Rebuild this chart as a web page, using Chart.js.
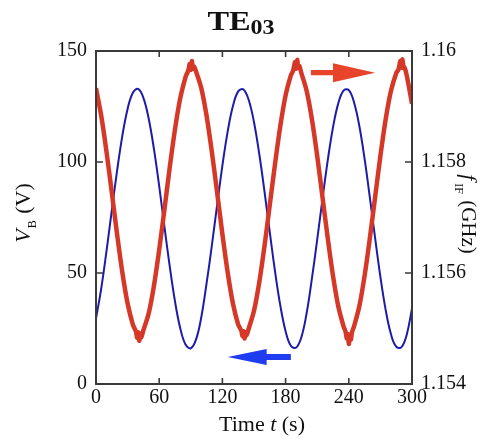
<!DOCTYPE html>
<html>
<head>
<meta charset="utf-8">
<script src="https://cdn.jsdelivr.net/npm/chart.js@4.4.1/dist/chart.umd.min.js"></script>
<style>
html,body{margin:0;padding:0;background:#fff;}
canvas{display:block;}
</style>
</head>
<body>
<canvas id="c" width="488" height="445"></canvas>
<script>
// ---- data ----
const timeTicks = [0, 60, 120, 180, 240, 300];
const vbTicks = [0, 50, 100, 150];
const fTicks = [1.154, 1.156, 1.158, 1.16];

const vbTimes = [0,5,10,15,20,25,30,35,40,45,50,55,60,65,70,75,80,85,90,95,
  100,105,110,115,120,125,130,135,140,145,150,155,160,165,170,175,180,185,190,195,
  200,205,210,215,220,225,230,235,240,245,250,255,260,265,270,275,280,285,290,295,300];
const vbValues = [29.5,43.1,60.0,78.2,96.0,111.8,123.9,131.2,132.9,128.9,119.6,105.9,89.1,70.8,53.0,37.2,25.1,17.8,16.1,20.1,
  30.2,45.4,62.4,80.7,98.4,113.7,125.2,131.8,132.7,127.9,117.9,103.6,86.6,68.3,50.6,35.3,23.8,17.2,16.4,21.1,
  32.0,47.6,65.0,83.3,100.7,115.6,126.4,132.2,132.4,126.8,116.2,101.4,84.0,65.7,48.3,33.4,22.5,16.8,16.6,22.2,34.0];

const fTimes = [0,5,10,15,20,25,30,35,38,39,40,41,42,43,45,50,55,60,65,70,75,80,85,87,88,89,90,91,92,93,95,
  100,105,110,115,120,125,130,135,138,139,140,141,142,143,145,150,155,160,165,170,175,180,185,187,188,189,190,191,192,193,195,
  200,205,210,215,220,225,230,235,237,238,239,240,241,242,243,245,250,255,260,265,270,275,280,285,287,288,289,290,291,292,293,295,300];
const fValues = [1.15933,1.15883,1.15818,1.15745,1.15670,1.15601,1.15545,1.15507,1.15494,1.15483,1.15493,1.15478,1.15491,1.15484,1.15497,
  1.15527,1.15577,1.15642,1.15715,1.15790,1.15859,1.15915,1.15953,1.15962,1.15968,1.15977,1.15966,1.15982,1.15968,1.15972,1.15963,
  1.15933,1.15883,1.15818,1.15745,1.15670,1.15601,1.15545,1.15507,1.15496,1.15486,1.15495,1.15482,1.15493,1.15488,1.15500,
  1.15532,1.15583,1.15649,1.15723,1.15797,1.15865,1.15920,1.15956,1.15964,1.15972,1.15980,1.15968,1.15984,1.15970,1.15973,1.15960,
  1.15928,1.15877,1.15811,1.15737,1.15663,1.15595,1.15540,1.15504,1.15494,1.15482,1.15490,1.15472,1.15488,1.15480,1.15493,1.15504,
  1.15540,1.15595,1.15663,1.15737,1.15811,1.15877,1.15928,1.15960,1.15966,1.15974,1.15982,1.15970,1.15985,1.15969,1.15970,1.15956,1.15905];

// arrow annotations in data units
const redArrow = {tail: 204, headBase: 225, tip: 265, level: 1.15961};
const blueArrow = {tail: 185, headBase: 162, tip: 125, level: 12.2};

const SERIF = "'Liberation Serif','DejaVu Serif',serif";

function toPts(xs, ys){ return xs.map((x,i)=>({x:x, y:ys[i]})); }

function drawArrow(ctx, xTail, xBase, xTip, y, shaftHalf, headHalf, color){
  ctx.save();
  ctx.fillStyle = color;
  ctx.beginPath();
  ctx.moveTo(xTail, y - shaftHalf);
  ctx.lineTo(xBase, y - shaftHalf);
  ctx.lineTo(xBase, y - headHalf);
  ctx.lineTo(xTip, y);
  ctx.lineTo(xBase, y + headHalf);
  ctx.lineTo(xBase, y + shaftHalf);
  ctx.lineTo(xTail, y + shaftHalf);
  ctx.closePath();
  ctx.fill();
  ctx.restore();
}

const decor = {
  id: 'decor',
  afterDatasetsDraw(chart){
    const {ctx, chartArea: a, scales} = chart;
    ctx.save();
    ctx.strokeStyle = '#3a3a3a';
    ctx.lineWidth = 2;
    ctx.strokeRect(a.left, a.top, a.right - a.left, a.bottom - a.top);
    ctx.lineWidth = 1.6;
    ctx.beginPath();
    timeTicks.forEach(v=>{
      const px = scales.x.getPixelForValue(v);
      ctx.moveTo(px, a.bottom); ctx.lineTo(px, a.bottom - 6);
      ctx.moveTo(px, a.top); ctx.lineTo(px, a.top + 6);
    });
    vbTicks.forEach(v=>{
      const py = scales.y.getPixelForValue(v);
      ctx.moveTo(a.left, py); ctx.lineTo(a.left + 7, py);
    });
    fTicks.forEach(v=>{
      const py = scales.y1.getPixelForValue(v);
      ctx.moveTo(a.right, py); ctx.lineTo(a.right - 7, py);
    });
    ctx.stroke();
    ctx.restore();

    drawArrow(ctx, scales.x.getPixelForValue(redArrow.tail), scales.x.getPixelForValue(redArrow.headBase),
      scales.x.getPixelForValue(redArrow.tip), scales.y1.getPixelForValue(redArrow.level), 2.6, 9.5, '#e8432b');
    drawArrow(ctx, scales.x.getPixelForValue(blueArrow.tail), scales.x.getPixelForValue(blueArrow.headBase),
      scales.x.getPixelForValue(blueArrow.tip), scales.y.getPixelForValue(blueArrow.level), 3, 8, '#1f3cf0');
  },
  afterDraw(chart){
    const {ctx} = chart;
    ctx.save();
    ctx.fillStyle = '#111';
    ctx.textBaseline = 'alphabetic';
    ctx.textAlign = 'left';

    // Title TE03 (subscript 03)
    ctx.save();
    const sx = 1.2;
    ctx.font = 'bold 27px ' + SERIF;
    const w1 = ctx.measureText('TE').width;
    ctx.font = 'bold 20px ' + SERIF;
    const w2 = ctx.measureText('03').width;
    const total = (w1 + w2) * sx;
    const cx = 241;
    ctx.translate(cx - total/2, 0);
    ctx.scale(sx, 1);
    ctx.font = 'bold 27px ' + SERIF;
    ctx.fillText('TE', 0, 30);
    ctx.font = 'bold 20px ' + SERIF;
    ctx.fillText('03', w1, 34);
    ctx.restore();

    // X axis title
    ctx.font = '22px ' + SERIF;
    const p1 = 'Time ', p2 = 't', p3 = ' (s)';
    const wa = ctx.measureText(p1).width, wc = ctx.measureText(p3).width;
    ctx.font = 'italic 22px ' + SERIF;
    const wb = ctx.measureText(p2).width;
    let x0 = 262 - (wa + wb + wc)/2;
    ctx.font = '22px ' + SERIF; ctx.fillText(p1, x0, 431);
    ctx.font = 'italic 22px ' + SERIF; ctx.fillText(p2, x0 + wa, 431);
    ctx.font = '22px ' + SERIF; ctx.fillText(p3, x0 + wa + wb, 431);

    // Left axis title: V_B (V), rotated -90
    ctx.save();
    ctx.translate(30, 213);
    ctx.rotate(-Math.PI/2);
    ctx.font = 'italic 22px ' + SERIF;
    const lv = ctx.measureText('V').width;
    ctx.font = '12px ' + SERIF;
    const lb = ctx.measureText('B').width;
    ctx.font = '22px ' + SERIF;
    const lp = ctx.measureText(' (V)').width;
    let s = -(lv + lb + 2 + lp)/2;
    ctx.font = 'italic 22px ' + SERIF; ctx.fillText('V', s, 0);
    ctx.font = '12px ' + SERIF; ctx.fillText('B', s + lv + 1, 6);
    ctx.font = '22px ' + SERIF; ctx.fillText(' (V)', s + lv + lb + 2, 0);
    ctx.restore();

    // Right axis title: f_IF (GHz), rotated +90
    ctx.save();
    ctx.translate(462, 214);
    ctx.rotate(Math.PI/2);
    ctx.font = 'italic 22px ' + SERIF;
    const rf = ctx.measureText('f').width;
    ctx.font = '12px ' + SERIF;
    const ri = ctx.measureText('IF').width;
    ctx.font = '21px ' + SERIF;
    const rg = ctx.measureText(' (GHz)').width;
    let r = -(rf + ri + 4 + rg)/2;
    ctx.font = 'italic 22px ' + SERIF; ctx.fillText('f', r, 0);
    ctx.font = '12px ' + SERIF; ctx.fillText('IF', r + rf + 3, 7);
    ctx.font = '21px ' + SERIF; ctx.fillText(' (GHz)', r + rf + ri + 4, 0);
    ctx.restore();

    ctx.restore();
  }
};

const tickFont = {family: SERIF, size: 20};

new Chart(document.getElementById('c'), {
  type: 'line',
  data: {
    datasets: [
      {
        label: 'f_IF',
        data: toPts(fTimes, fValues),
        yAxisID: 'y1',
        borderColor: 'rgb(214,56,40)',
        borderWidth: 4.5,
        pointRadius: 0,
        tension: 0.3,
        fill: false,
        order: 0
      },
      {
        label: 'V_B',
        data: toPts(vbTimes, vbValues),
        yAxisID: 'y',
        borderColor: '#1c1ca8',
        borderWidth: 2,
        pointRadius: 0,
        tension: 0.4,
        fill: false,
        order: 1
      }
    ]
  },
  options: {
    responsive: false,
    animation: false,
    devicePixelRatio: 1,
    layout: {padding: {top: 51, left: 0, right: 0, bottom: 0}},
    plugins: {legend: {display: false}, tooltip: {enabled: false}, title: {display: false}},
    scales: {
      x: {
        type: 'linear', min: 0, max: 300,
        afterFit: s => { s.height = 61; },
        afterBuildTicks: s => { s.ticks = timeTicks.map(v => ({value: v})); },
        grid: {display: false, drawTicks: false},
        border: {display: false},
        ticks: {font: tickFont, color: '#111', padding: 2, maxRotation: 0, autoSkip: false}
      },
      y: {
        type: 'linear', position: 'left', min: 0, max: 150,
        afterFit: s => { s.width = 96; },
        afterBuildTicks: s => { s.ticks = vbTicks.map(v => ({value: v})); },
        grid: {display: false, drawTicks: false},
        border: {display: false},
        ticks: {font: tickFont, color: '#111', padding: 9}
      },
      y1: {
        type: 'linear', position: 'right', min: 1.154, max: 1.16,
        afterFit: s => { s.width = 76; },
        afterBuildTicks: s => { s.ticks = fTicks.map(v => ({value: v})); },
        grid: {display: false, drawTicks: false},
        border: {display: false},
        ticks: {font: tickFont, color: '#111', padding: 9,
          callback: v => String(parseFloat(Number(v).toFixed(3)))}
      }
    }
  },
  plugins: [decor]
});
</script>
</body>
</html>
